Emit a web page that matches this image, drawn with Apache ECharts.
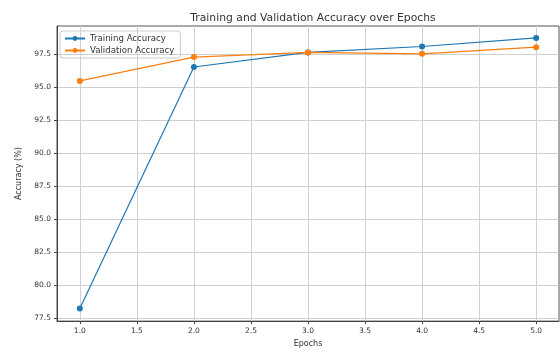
<!DOCTYPE html>
<html><head><meta charset="utf-8">
<script src="https://cdn.jsdelivr.net/npm/echarts@6/dist/echarts.min.js"></script>
<style>html,body{margin:0;padding:0;background:#fff}#c{width:560px;height:353px}</style>
</head><body><div id="c"></div>
<script>
const epochs = [1, 2, 3, 4, 5];
const trainAcc = [78.25, 96.5, 97.6, 98.05, 98.7];
const valAcc = [95.45, 97.25, 97.6, 97.5, 98.0];
const xTicks = [1.0, 1.5, 2.0, 2.5, 3.0, 3.5, 4.0, 4.5, 5.0];
const yTicks = [77.5, 80.0, 82.5, 85.0, 87.5, 90.0, 92.5, 95.0, 97.5];

const chart = echarts.init(document.getElementById('c'), null, {renderer: 'canvas'});
const font = 'DejaVu Sans';
chart.setOption({
  animation: false,
  backgroundColor: '#fff',
  title: {text: 'Training and Validation Accuracy over Epochs', left: 308, textAlign: 'center', top: 8,
    textStyle: {fontFamily: font, fontSize: 10.8, fontWeight: 'normal', color: '#333'}},
  legend: {orient: 'vertical', left: 60, top: 31, padding: [3, 6, 3, 4], itemGap: 3,
    borderColor: '#ccc', borderWidth: 1, borderRadius: 3, itemWidth: 20, itemHeight: 6,
    textStyle: {fontFamily: font, fontSize: 8.6, color: '#333'},
    data: ['Training Accuracy', 'Validation Accuracy']},
  grid: {left: 57, right: 1, top: 26, bottom: 29, show: true, borderColor: '#555', borderWidth: 1},
  xAxis: {type: 'value', min: 0.8, max: 5.2, name: 'Epochs', nameLocation: 'middle', nameGap: 17,
    nameTextStyle: {fontFamily: font, fontSize: 8, color: '#333'},
    axisLine: {onZero: false, lineStyle: {color: '#444'}},
    axisTick: {show: true, customValues: xTicks, length: 3, lineStyle: {color: '#444'}},
    axisLabel: {customValues: xTicks, fontFamily: font, fontSize: 7.5, color: '#333', margin: 6,
      formatter: v => v.toFixed(1)},
    splitLine: {show: true, lineStyle: {color: '#d0d0d0', width: 1}}},
  yAxis: {type: 'value', min: 77.3, max: 99.6, name: 'Accuracy (%)', nameLocation: 'middle', nameGap: 33,
    nameTextStyle: {fontFamily: font, fontSize: 8, color: '#333'},
    axisLine: {show: true, lineStyle: {color: '#444'}},
    axisTick: {show: true, customValues: yTicks, length: 3, lineStyle: {color: '#444'}},
    axisLabel: {customValues: yTicks, fontFamily: font, fontSize: 7.5, color: '#333', margin: 6,
      formatter: v => v.toFixed(1)},
    splitLine: {show: true, lineStyle: {color: '#d0d0d0', width: 1}}},
  series: [
    {name: 'Training Accuracy', type: 'line', data: epochs.map((e, i) => [e, trainAcc[i]]),
      color: '#1f77b4', symbol: 'circle', symbolSize: 6, lineStyle: {width: 1.2}},
    {name: 'Validation Accuracy', type: 'line', data: epochs.map((e, i) => [e, valAcc[i]]),
      color: '#ff7f0e', symbol: 'circle', symbolSize: 6, lineStyle: {width: 1.2}}
  ]
});
</script></body></html>
